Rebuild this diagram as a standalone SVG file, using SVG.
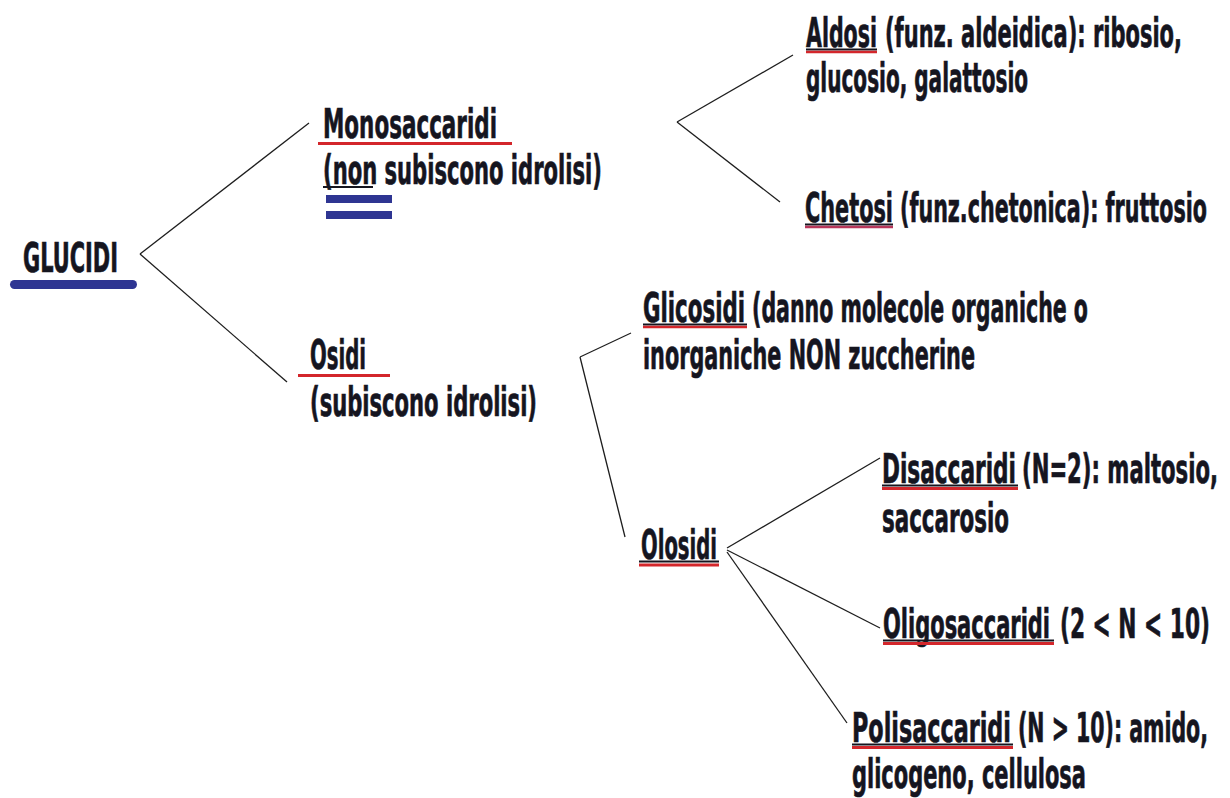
<svg xmlns="http://www.w3.org/2000/svg" width="1230" height="798" viewBox="0 0 1230 798">
<style>
  .t { font-family: "DejaVu Sans Condensed", "DejaVu Sans", sans-serif; font-weight: bold; font-stretch: condensed; font-size: 41px; fill: #15151f; stroke: #15151f; stroke-width: 0.7; }
  .ul { stroke: #15151f; stroke-width: 2; fill: none; }
  .red { stroke: #d3262b; stroke-width: 3; fill: none; }
  .blue { fill: #2e3592; }
  .conn line { stroke: #1e1e1e; stroke-width: 1.3; fill: none; }
</style>
<rect width="1230" height="798" fill="#ffffff"/>

<g id="connectors" class="conn">
  <line x1="140" y1="254" x2="309" y2="123"/>
  <line x1="140" y1="254" x2="287" y2="382"/>
  <line x1="677" y1="122" x2="793" y2="55"/>
  <line x1="677" y1="122" x2="780" y2="202"/>
  <line x1="580" y1="357" x2="631" y2="333"/>
  <line x1="580" y1="357" x2="625" y2="537"/>
  <line x1="727" y1="548" x2="880" y2="458"/>
  <line x1="727" y1="550" x2="880" y2="628"/>
  <line x1="727" y1="552" x2="847" y2="723"/>
</g>

<g id="glucidi">
  <text class="t" transform="translate(23,272) scale(0.58,1)" textLength="163.8" lengthAdjust="spacingAndGlyphs">GLUCIDI</text>
  <rect class="blue" x="10" y="280" width="127" height="9" rx="4.5"/>
</g>

<g id="monosaccaridi">
  <text class="t" transform="translate(323,138) scale(0.58,1)" textLength="300" lengthAdjust="spacingAndGlyphs">Monosaccaridi</text>
  <line class="red" x1="318" y1="143.5" x2="512" y2="143.5"/>
  <text class="t" transform="translate(323,184) scale(0.58,1)" textLength="481" lengthAdjust="spacingAndGlyphs">(non subiscono idrolisi)</text>
  <line class="ul" x1="323" y1="187" x2="373" y2="187"/>
  <rect class="blue" x="326" y="195" width="66" height="8"/>
  <rect class="blue" x="326" y="211" width="66" height="8"/>
</g>

<g id="aldosi">
  <text class="t" transform="translate(806,47) scale(0.58,1)" textLength="122.4" lengthAdjust="spacingAndGlyphs">Aldosi</text>
  <text class="t" transform="translate(885,47) scale(0.58,1)" textLength="512" lengthAdjust="spacingAndGlyphs">(funz. aldeidica): ribosio,</text>
  <line class="ul" x1="806" y1="49.5" x2="877" y2="49.5"/>
  <line class="red" x1="806" y1="52" x2="877" y2="52" style="stroke-width:2.5"/>
  <text class="t" transform="translate(806,92) scale(0.58,1)" textLength="382.8" lengthAdjust="spacingAndGlyphs">glucosio, galattosio</text>
</g>

<g id="chetosi">
  <text class="t" transform="translate(805,222) scale(0.58,1)" textLength="151.7" lengthAdjust="spacingAndGlyphs">Chetosi</text>
  <text class="t" transform="translate(900,222) scale(0.58,1)" textLength="529.3" lengthAdjust="spacingAndGlyphs">(funz.chetonica): fruttosio</text>
  <line class="ul" x1="805" y1="224.5" x2="893" y2="224.5"/>
  <line class="red" x1="805" y1="227" x2="893" y2="227" style="stroke:#b8365a;stroke-width:2.5"/>
</g>

<g id="osidi">
  <text class="t" transform="translate(310,369) scale(0.58,1)" textLength="96.6" lengthAdjust="spacingAndGlyphs">Osidi</text>
  <line class="red" x1="298" y1="375.5" x2="390" y2="375.5"/>
  <text class="t" transform="translate(310,416) scale(0.58,1)" textLength="391.4" lengthAdjust="spacingAndGlyphs">(subiscono idrolisi)</text>
</g>

<g id="glicosidi">
  <text class="t" transform="translate(643,322) scale(0.58,1)" textLength="175.9" lengthAdjust="spacingAndGlyphs">Glicosidi</text>
  <text class="t" transform="translate(752,322) scale(0.58,1)" textLength="579.3" lengthAdjust="spacingAndGlyphs">(danno molecole organiche o</text>
  <line class="ul" x1="643" y1="324.5" x2="747" y2="324.5"/>
  <line class="red" x1="643" y1="327" x2="747" y2="327" style="stroke-width:2.5"/>
  <text class="t" transform="translate(643,369) scale(0.58,1)" textLength="572.4" lengthAdjust="spacingAndGlyphs">inorganiche NON zuccherine</text>
</g>

<g id="olosidi">
  <text class="t" transform="translate(641,559) scale(0.58,1)" textLength="131" lengthAdjust="spacingAndGlyphs">Olosidi</text>
  <line class="ul" x1="639" y1="561.5" x2="719" y2="561.5"/>
  <line class="red" x1="639" y1="565" x2="719" y2="565"/>
</g>

<g id="disaccaridi">
  <text class="t" transform="translate(882,483) scale(0.58,1)" textLength="231" lengthAdjust="spacingAndGlyphs">Disaccaridi</text>
  <text class="t" transform="translate(1022,483) scale(0.58,1)" textLength="338" lengthAdjust="spacingAndGlyphs">(N=2): maltosio,</text>
  <line class="ul" x1="882" y1="485.5" x2="1018" y2="485.5"/>
  <line class="red" x1="882" y1="488.5" x2="1018" y2="488.5"/>
  <text class="t" transform="translate(882,532) scale(0.58,1)" textLength="219" lengthAdjust="spacingAndGlyphs">saccarosio</text>
</g>

<g id="oligosaccaridi">
  <text class="t" transform="translate(883,638) scale(0.58,1)" textLength="288" lengthAdjust="spacingAndGlyphs">Oligosaccaridi</text>
  <text class="t" transform="translate(1060,638) scale(0.58,1)" textLength="258.6" lengthAdjust="spacingAndGlyphs">(2 &lt; N &lt; 10)</text>
  <line class="ul" x1="883" y1="640.5" x2="1054" y2="640.5"/>
  <line class="red" x1="883" y1="643.5" x2="1054" y2="643.5"/>
</g>

<g id="polisaccaridi">
  <text class="t" transform="translate(852,742) scale(0.58,1)" textLength="274" lengthAdjust="spacingAndGlyphs">Polisaccaridi</text>
  <text class="t" transform="translate(1018,742) scale(0.58,1)" textLength="327.6" lengthAdjust="spacingAndGlyphs">(N &gt; 10): amido,</text>
  <line class="ul" x1="852" y1="744.5" x2="1013" y2="744.5"/>
  <line class="red" x1="852" y1="747.5" x2="1013" y2="747.5"/>
  <text class="t" transform="translate(852,788) scale(0.58,1)" textLength="403.4" lengthAdjust="spacingAndGlyphs">glicogeno, cellulosa</text>
</g>
</svg>
